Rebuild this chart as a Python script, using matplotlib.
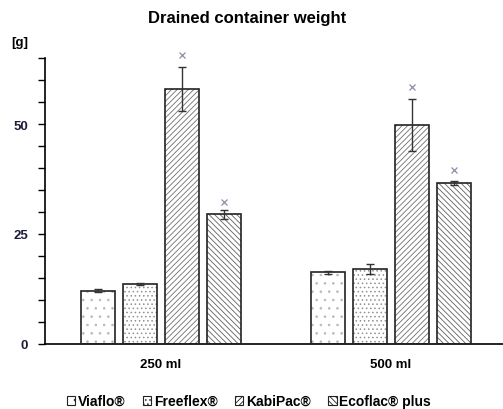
import matplotlib
matplotlib.use("Agg")
import matplotlib.pyplot as plt
from matplotlib.patches import Patch
from matplotlib.ticker import MultipleLocator
import numpy as np

plt.rcParams['font.family'] = ['Liberation Sans', 'DejaVu Sans']
plt.rcParams['hatch.linewidth'] = 0.6

groups = ["250 ml", "500 ml"]
products = ["Viaflo®", "Freeflex®", "KabiPac®", "Ecoflac® plus"]
means = {
    "Viaflo®": [12.1, 16.3],
    "Freeflex®": [13.6, 17.0],
    "KabiPac®": [58.0, 49.8],
    "Ecoflac® plus": [29.5, 36.6],
}
errors = {
    "Viaflo®": [0.3, 0.3],
    "Freeflex®": [0.2, 1.1],
    "KabiPac®": [5.0, 5.9],
    "Ecoflac® plus": [1.0, 0.5],
}
markers_x = {
    "KabiPac®": [65.7, 58.5],
    "Ecoflac® plus": [32.3, 39.5],
}
hatches = ['..', '....', '//////', '\\\\\\\\\\\\']
hatch_colors = ['#b8b8b8', '#909090', '#707070', '#606060']

fig = plt.figure(figsize=(5.03, 4.10), dpi=100)
ax = fig.add_axes([45/503, 65/410, 1 - 45/503, (345-59)/410])

x = np.arange(len(groups))
step = 0.183
width = 0.148
offsets = (np.arange(len(products)) - 1.5) * step

for i, p in enumerate(products):
    xs = x + offsets[i]
    ax.bar(xs, means[p], width, color='white', hatch=hatches[i],
           edgecolor=hatch_colors[i], linewidth=0, zorder=2)
    ax.bar(xs, means[p], width, fill=False, edgecolor='#222222',
           linewidth=1.2, zorder=3)
    ax.errorbar(xs, means[p], yerr=errors[p], fmt='none', ecolor='#333333',
                elinewidth=1.0, capsize=3, capthick=1.0, zorder=4)
    if p in markers_x:
        ax.plot(xs, markers_x[p], linestyle='none', marker='x', markersize=4,
                markeredgewidth=0.9, color='#8a8fa8', zorder=5, clip_on=False)

ax.set_xlim(-0.504, 1.487)
ax.set_ylim(0, 65)
ax.yaxis.set_major_locator(MultipleLocator(25))
ax.yaxis.set_minor_locator(MultipleLocator(5))
ax.tick_params(axis='y', which='both', direction='out', length=5, width=1,
               labelsize=9.5, pad=7)
ax.tick_params(axis='x', which='both', length=0, labelsize=9.5, pad=10)
ax.set_xticks(x)
ax.set_xticklabels(groups, fontweight='bold')
for lbl in ax.get_yticklabels():
    lbl.set_fontweight('bold')
    lbl.set_color('#1c1c3a')
ax.spines['top'].set_visible(False)
ax.spines['right'].set_visible(False)
ax.spines['left'].set_linewidth(1.2)
ax.spines['bottom'].set_linewidth(1.2)

fig.text(247/503, 1 - 19/410, "Drained container weight", ha='center', va='center',
         fontsize=12, fontweight='bold')
fig.text(20/503, 1 - 43/410, "[g]", ha='center', va='center',
         fontsize=9.5, fontweight='bold')

handles = [Patch(facecolor='white', edgecolor='#222222', hatch=hatches[i], linewidth=0.8)
           for i in range(len(products))]
leg = fig.legend(handles, products, loc='center', bbox_to_anchor=(249/503, 1 - 402/410),
                 ncol=4, frameon=False, handlelength=0.6, handleheight=0.6,
                 handletextpad=0.2, columnspacing=1.25, prop={'weight': 'bold', 'size': 10})

fig.savefig("out.png", dpi=100)
